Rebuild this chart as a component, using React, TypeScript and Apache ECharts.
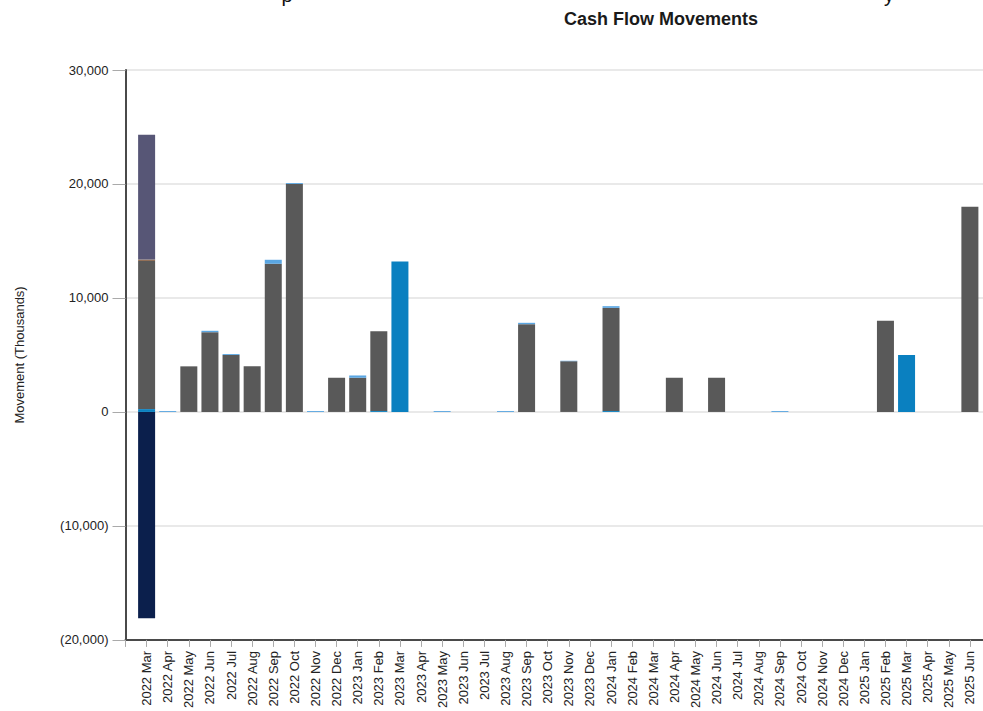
import React, { useEffect, useRef } from 'react';
import * as echarts from 'echarts';

const categories = [
  '2022 Mar', '2022 Apr', '2022 May', '2022 Jun', '2022 Jul', '2022 Aug', '2022 Sep', '2022 Oct', '2022 Nov', '2022 Dec',
  '2023 Jan', '2023 Feb', '2023 Mar', '2023 Apr', '2023 May', '2023 Jun', '2023 Jul', '2023 Aug', '2023 Sep', '2023 Oct', '2023 Nov', '2023 Dec',
  '2024 Jan', '2024 Feb', '2024 Mar', '2024 Apr', '2024 May', '2024 Jun', '2024 Jul', '2024 Aug', '2024 Sep', '2024 Oct', '2024 Nov', '2024 Dec',
  '2025 Jan', '2025 Feb', '2025 Mar', '2025 Apr', '2025 May', '2025 Jun',
];

const blueValues = [
  250, 0, 0, 0, 0, 0, 0, 0, 0, 0,
  0, 80, 13200, 0, 0, 0, 0, 0, 0, 0, 0, 0,
  80, 0, 0, 0, 0, 0, 0, 0, 0, 0, 0, 0,
  0, 0, 5000, 0, 0, 0,
];
const grayValues = [
  13000, 0, 4000, 7000, 5000, 4000, 13000, 20000, 0, 3000,
  3000, 7000, 0, 0, 0, 0, 0, 0, 7700, 0, 4450, 0,
  9050, 0, 0, 3000, 0, 3000, 0, 0, 0, 0, 0, 0,
  0, 8000, 0, 0, 0, 18000,
];
const lightBlueValues = [
  0, 80, 0, 120, 80, 0, 350, 80, 80, 0,
  200, 0, 0, 0, 80, 0, 0, 80, 120, 0, 40, 0,
  150, 0, 0, 0, 0, 0, 0, 0, 80, 0, 0, 0,
  0, 0, 0, 0, 0, 0,
];
const brownValues = [
  120, 0, 0, 0, 0, 0, 0, 0, 0, 0,
  0, 0, 0, 0, 0, 0, 0, 0, 0, 0, 0, 0,
  0, 0, 0, 0, 0, 0, 0, 0, 0, 0, 0, 0,
  0, 0, 0, 0, 0, 0,
];
const purpleValues = [
  10950, 0, 0, 0, 0, 0, 0, 0, 0, 0,
  0, 0, 0, 0, 0, 0, 0, 0, 0, 0, 0, 0,
  0, 0, 0, 0, 0, 0, 0, 0, 0, 0, 0, 0,
  0, 0, 0, 0, 0, 0,
];
const navyValues = [
  -18100, 0, 0, 0, 0, 0, 0, 0, 0, 0,
  0, 0, 0, 0, 0, 0, 0, 0, 0, 0, 0, 0,
  0, 0, 0, 0, 0, 0, 0, 0, 0, 0, 0, 0,
  0, 0, 0, 0, 0, 0,
];

const yMin = -20000;
const yMax = 30000;
const yStep = 10000;

const FONT = 'Arial, "Liberation Sans", Helvetica, sans-serif';

function fmtY(v: number): string {
  const s = Math.abs(v).toLocaleString('en-US');
  return v < 0 ? `(${s})` : s;
}

// padded axis: an empty slot before the first and after the last month
const axisCategories = ['', ...categories, ''];
function padded(arr: number[]) {
  return [null, ...arr.map((v) => (v === 0 ? null : v)), null];
}

export default function App() {
  const ref = useRef<HTMLDivElement>(null);

  useEffect(() => {
    if (!ref.current) return;
    const chart = echarts.init(ref.current, undefined, { renderer: 'svg' });

    const mk = (name: string, data: number[], color: string) => ({
      name,
      type: 'bar',
      stack: 'total',
      barWidth: 17,
      data: padded(data),
      itemStyle: { color },
      emphasis: { disabled: true },
    });

    chart.setOption({
      animation: false,
      graphic: [
        {
          type: 'text',
          x: 661,
          y: 19,
          style: {
            text: 'Cash Flow Movements',
            textAlign: 'center',
            textVerticalAlign: 'middle',
            font: `bold 18px ${FONT}`,
            fill: '#1a1a1a',
          },
        },
        {
          type: 'text',
          x: 287,
          y: 5,
          style: {
            text: 'p',
            textAlign: 'center',
            textVerticalAlign: 'bottom',
            font: `20px ${FONT}`,
            fill: '#111',
          },
        },
        {
          type: 'text',
          x: 889,
          y: 5,
          style: {
            text: 'y',
            textAlign: 'center',
            textVerticalAlign: 'bottom',
            font: `20px ${FONT}`,
            fill: '#111',
          },
        },
      ],
      grid: {
        left: 125.5,
        top: 70,
        width: 865.5,
        bottom: 68.5,
        containLabel: false,
      },
      xAxis: {
        type: 'category',
        data: axisCategories,
        boundaryGap: false,
        axisLine: { show: true, onZero: false, lineStyle: { color: '#4a4a4a', width: 2 } },
        axisTick: { show: true, length: 7, interval: 0, lineStyle: { color: '#aaaaaa', width: 1 } },
        splitLine: { show: false },
        axisLabel: {
          rotate: 90,
          margin: 11,
          interval: 0,
          fontSize: 13,
          fontFamily: FONT,
          color: '#222',
        },
      },
      yAxis: {
        type: 'value',
        min: yMin,
        max: yMax,
        interval: yStep,
        name: 'Movement (Thousands)',
        nameLocation: 'middle',
        nameGap: 100,
        nameRotate: 90,
        nameTextStyle: { fontSize: 13, fontFamily: FONT, color: '#222' },
        axisLine: { show: true, onZero: false, lineStyle: { color: '#4a4a4a', width: 2 } },
        axisTick: { show: true, length: 13, lineStyle: { color: '#aaaaaa', width: 1 } },
        splitLine: { show: true, lineStyle: { color: '#e2e2e2', width: 1.5 } },
        axisLabel: {
          margin: 17,
          fontSize: 13,
          fontFamily: FONT,
          color: '#222',
          formatter: (v: number) => fmtY(v),
        },
      },
      series: [
        mk('Blue', blueValues, '#0a80c0'),
        mk('Operating', grayValues, '#595959'),
        mk('Light Blue', lightBlueValues, '#5aa6e2'),
        mk('Brown', brownValues, '#8a6448'),
        mk('Purple', purpleValues, '#575676'),
        mk('Navy', navyValues, '#0b1f4c'),
      ],
    });

    return () => {
      chart.dispose();
    };
  }, []);

  return (
    <div
      style={{
        position: 'absolute',
        left: 0,
        top: 0,
        width: 983,
        height: 711,
        overflow: 'hidden',
        background: '#fff',
      }}
    >
      <div ref={ref} style={{ width: 1010, height: 711 }} />
    </div>
  );
}
